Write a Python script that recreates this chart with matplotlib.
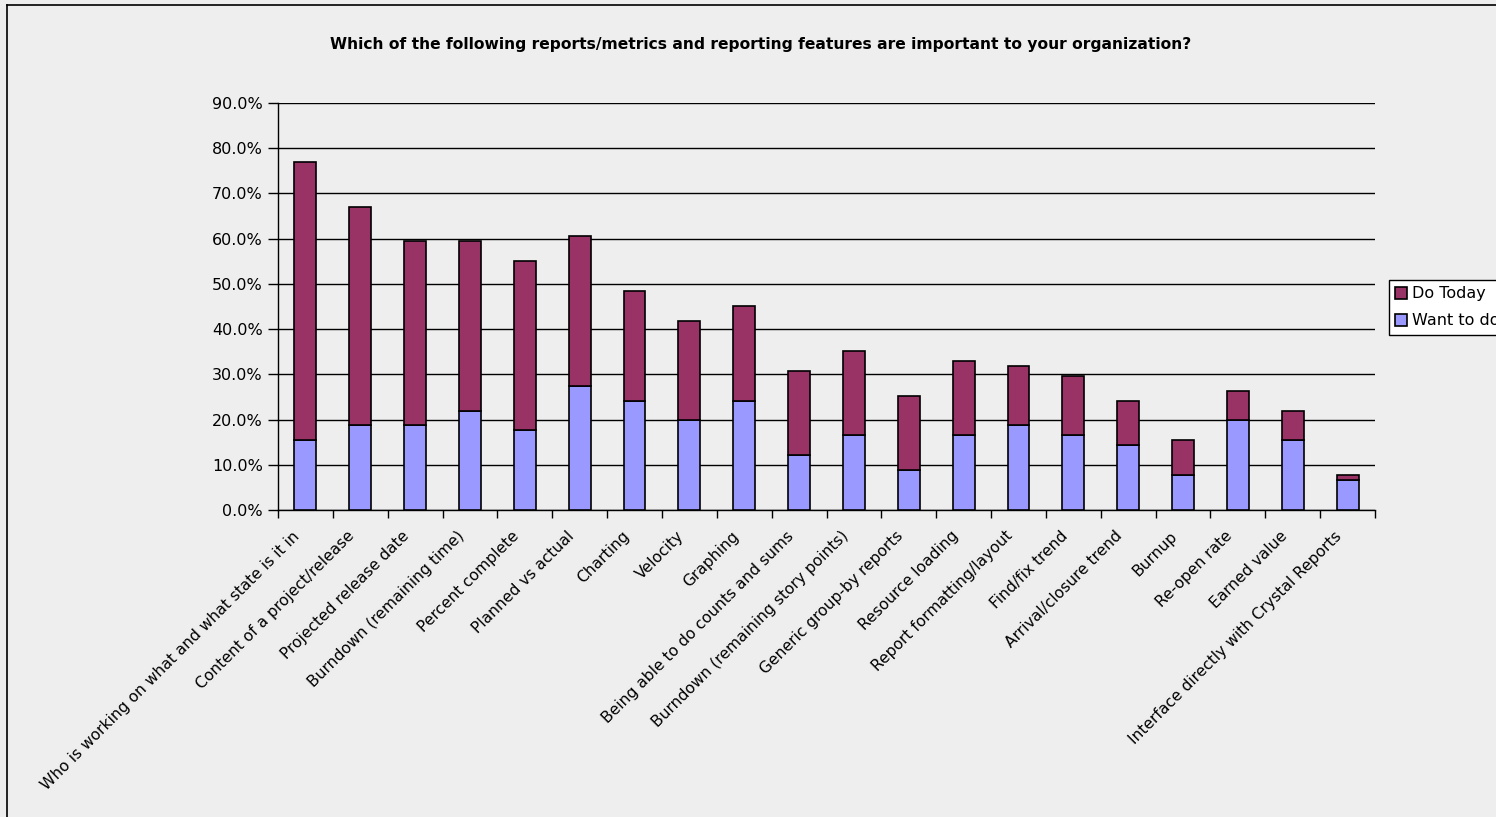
import matplotlib
matplotlib.use("Agg")
import matplotlib.pyplot as plt
import matplotlib.transforms as mtrans
import numpy as np
from matplotlib.ticker import PercentFormatter, FixedLocator
from matplotlib.patches import Patch
from matplotlib.lines import Line2D

categories = [
    "Who is working on what and what state is it in",
    "Content of a project/release",
    "Projected release date",
    "Burndown (remaining time)",
    "Percent complete",
    "Planned vs actual",
    "Charting",
    "Velocity",
    "Graphing",
    "Being able to do counts and sums",
    "Burndown (remaining story points)",
    "Generic group-by reports",
    "Resource loading",
    "Report formatting/layout",
    "Find/fix trend",
    "Arrival/closure trend",
    "Burnup",
    "Re-open rate",
    "Earned value",
    "Interface directly with Crystal Reports",
]
want_to_do = [15.4, 18.7, 18.7, 22.0, 17.6, 27.5, 24.2, 19.8, 24.2, 12.1,
              16.5, 8.8, 16.5, 18.7, 16.5, 14.3, 7.7, 19.8, 15.4, 6.6]
do_today = [61.5, 48.4, 40.7, 37.4, 37.4, 33.0, 24.2, 22.0, 20.9, 18.7,
            18.7, 16.5, 16.5, 13.2, 13.2, 9.9, 7.7, 6.6, 6.6, 1.1]
title = "Which of the following reports/metrics and reporting features are important to your organization?"
series_names = ["Do Today", "Want to do"]
yticks = [0, 10, 20, 30, 40, 50, 60, 70, 80, 90]

bg = "#eeeeee"
c_do = "#993366"
c_want = "#9999ff"
FS = 11.5

W, H = 1496, 817
fig = plt.figure(figsize=(W / 100, H / 100), dpi=100, facecolor=bg)
ax = fig.add_axes([278 / W, 1 - 510 / H, (1375 - 278) / W, (510 - 103) / H])
ax.set_facecolor(bg)

x = np.arange(len(categories))
ax.bar(x, want_to_do, width=0.4, color=c_want, edgecolor="black", linewidth=1.2, zorder=3)
ax.bar(x, do_today, width=0.4, bottom=want_to_do, color=c_do, edgecolor="black", linewidth=1.2, zorder=3)

ax.set_xlim(-0.5, len(categories) - 0.5)
ax.set_ylim(0, 90)
ax.set_yticks(yticks)
ax.yaxis.set_major_formatter(PercentFormatter(decimals=1))
ax.yaxis.grid(True, color="black", linewidth=1.0, zorder=0)
ax.set_axisbelow(True)

ax.xaxis.set_major_locator(FixedLocator(np.arange(-0.5, len(categories), 1.0)))
ax.xaxis.set_major_formatter(plt.NullFormatter())
ax.xaxis.set_minor_locator(FixedLocator(x))
ax.set_xticklabels(categories, minor=True, rotation=45, ha="right", va="center",
                   rotation_mode="anchor", fontsize=11.2)
ax.tick_params(axis="x", which="minor", length=0, pad=17)
ax.tick_params(axis="x", which="major", length=6, width=1, direction="out")
ax.tick_params(axis="y", length=7, width=1, direction="out", labelsize=FS, pad=4)

shift = mtrans.ScaledTranslation(-8 / 100, 0, fig.dpi_scale_trans)
for lab in ax.get_xticklabels(minor=True):
    lab.set_transform(lab.get_transform() + shift)

for s in ["top", "right"]:
    ax.spines[s].set_visible(False)
for s in ["left", "bottom"]:
    ax.spines[s].set_color("black")
    ax.spines[s].set_linewidth(1.0)

fig.text(761 / W, 1 - 44 / H, title, ha="center", va="center", fontsize=11.2, fontweight="bold")

handles = [Patch(facecolor=c_do, edgecolor="black", linewidth=1.2),
           Patch(facecolor=c_want, edgecolor="black", linewidth=1.2)]
leg = fig.legend(handles, series_names, loc="upper left",
                 bbox_to_anchor=(1389 / W, 1 - 280 / H), bbox_transform=fig.transFigure,
                 fontsize=FS, frameon=True, fancybox=False, framealpha=1,
                 edgecolor="black", facecolor="white", borderaxespad=0,
                 borderpad=0.4, handlelength=0.75, handleheight=0.75,
                 handletextpad=0.3, labelspacing=0.75)
leg.get_frame().set_linewidth(1.0)

# outer chart-area border (left and top visible)
fig.add_artist(Line2D([7 / W, 7 / W], [0, 1 - 5 / H], transform=fig.transFigure,
                      color="black", linewidth=1.2))
fig.add_artist(Line2D([7 / W, 1], [1 - 5 / H, 1 - 5 / H], transform=fig.transFigure,
                      color="black", linewidth=1.2))

fig.savefig("out.png", dpi=100, facecolor=bg)
